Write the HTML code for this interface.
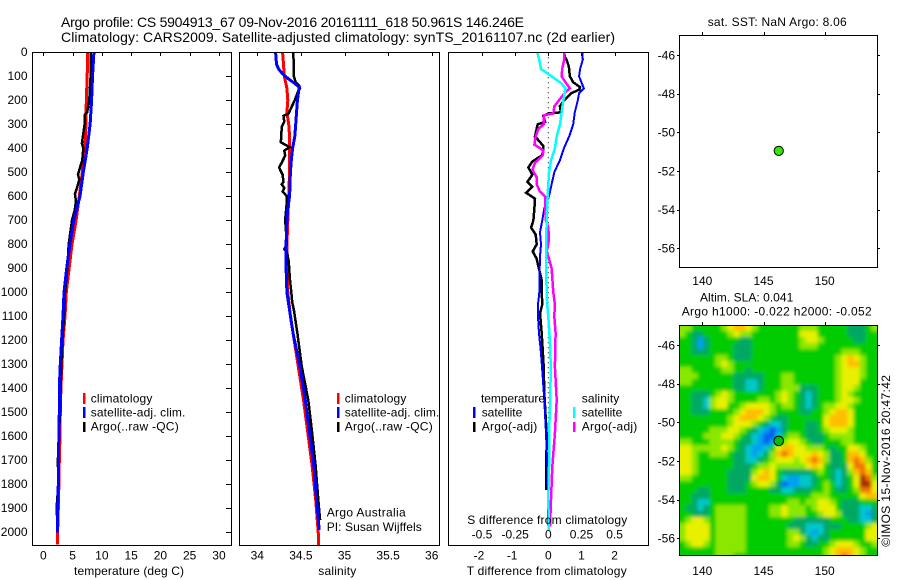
<!DOCTYPE html>
<html lang="en">
<head>
<meta charset="utf-8">
<title>Argo profile CS 5904913_67</title>
<style>
html,body{margin:0;padding:0;background:#fff;}
svg{display:block;}
text{font-family:"Liberation Sans",sans-serif;font-size:12px;fill:#000;}
.title{font-size:14px;}
.box{fill:none;stroke:#000;stroke-width:1;shape-rendering:crispEdges;}
.tick{stroke:#000;stroke-width:1;shape-rendering:crispEdges;}
.series{fill:none;stroke-linejoin:miter;shape-rendering:crispEdges;}
</style>
</head>
<body>
<svg id="figure" xmlns="http://www.w3.org/2000/svg" width="900" height="580" viewBox="0 0 900 580">
  <rect x="0" y="0" width="900" height="580" fill="#fff"/>
  <text class="title" x="61" y="27" textLength="463">Argo profile: CS 5904913_67 09-Nov-2016 20161111_618 50.961S 146.246E</text>
  <text class="title" x="61" y="42" textLength="554">Climatology: CARS2009. Satellite-adjusted climatology: synTS_20161107.nc (2d earlier)</text>

  <g id="heatmap-layer" clip-path="url(#heat-clip)"><g id="heatmap" filter="url(#heat-blur)"></g></g>
  <defs>
    <clipPath id="heat-clip"><rect x="679.5" y="325.5" width="198" height="230"/></clipPath>
    <filter id="heat-blur" filterUnits="userSpaceOnUse" x="640" y="290" width="280" height="300"><feGaussianBlur stdDeviation="1.8"/></filter>
  </defs>

  <g id="series-layer"></g>
  <g id="axis-layer"></g>

  <rect class="box" x="32.5" y="52.5" width="199" height="493"/>
  <rect class="box" x="239.5" y="52.5" width="200" height="493"/>
  <rect class="box" x="448.5" y="52.5" width="200" height="493"/>
  <rect class="box" x="679.5" y="35.5" width="198" height="232"/>
  <rect class="box" x="679.5" y="325.5" width="198" height="230"/>

  <text x="74" y="575" textLength="110">temperature (deg C)</text>
  <text x="318.3" y="575" textLength="38">salinity</text>
  <text x="466.7" y="575" textLength="160">T difference from climatology</text>
  <text x="467.3" y="524" textLength="160">S difference from climatology</text>

  <g>
    <rect x="83" y="393" width="2.5" height="11" fill="#f00"/>
    <rect x="83" y="407" width="2.5" height="11" fill="#00f"/>
    <rect x="83" y="422" width="2.5" height="10" fill="#000"/>
    <text x="90.7" y="402.3" textLength="61.7">climatology</text>
    <text x="90.7" y="416.3" textLength="94.7">satellite-adj. clim.</text>
    <text x="90.7" y="430.7" textLength="88">Argo(..raw -QC)</text>
  </g>
  <g>
    <rect x="337" y="393" width="2.5" height="11" fill="#f00"/>
    <rect x="337" y="407" width="2.5" height="11" fill="#00f"/>
    <rect x="337" y="422" width="2.5" height="10" fill="#000"/>
    <text x="344.7" y="402.3" textLength="61.7">climatology</text>
    <text x="344.7" y="416.3" textLength="94.7">satellite-adj. clim.</text>
    <text x="344.7" y="430.7" textLength="88">Argo(..raw -QC)</text>
  </g>
  <text x="326.7" y="516.7" textLength="79">Argo Australia</text>
  <text x="326.7" y="531" textLength="95">PI: Susan Wijffels</text>
  <g>
    <text x="481" y="402.3" textLength="64">temperature</text>
    <rect x="473" y="407" width="2.5" height="11" fill="#00f"/>
    <rect x="473" y="422" width="2.5" height="10" fill="#000"/>
    <text x="481.7" y="416.3" textLength="40.6">satellite</text>
    <text x="481.7" y="430.7" textLength="55.6">Argo(-adj)</text>
    <text x="581.7" y="402.3" textLength="37.6">salinity</text>
    <rect x="573" y="407" width="2.5" height="11" fill="#0ff"/>
    <rect x="573" y="422" width="2.5" height="10" fill="#f0f"/>
    <text x="581.7" y="416.3" textLength="40.6">satellite</text>
    <text x="581.7" y="430.7" textLength="55.6">Argo(-adj)</text>
  </g>

  <text x="707.7" y="26" textLength="139">sat. SST: NaN Argo: 8.06</text>
  <text x="700" y="301.7" textLength="93.3">Altim. SLA: 0.041</text>
  <text x="681.7" y="315.7" textLength="190">Argo h1000: -0.022 h2000: -0.052</text>
  <text transform="translate(890 546.7) rotate(-90)" x="0" y="0" textLength="171.7">©IMOS 15-Nov-2016 20:47:42</text>
</svg>

<script>
// ---- Chart data ----
const depthTicks = [0,100,200,300,400,500,600,700,800,900,1000,1100,1200,1300,1400,1500,1600,1700,1800,1900,2000];
const temperatureTicks = [0,5,10,15,20,25,30];
const salinityTicks = [34,34.5,35,35.5,36];
const tDiffTicks = [-2,-1,0,1,2];
const sDiffTicks = [-0.5,-0.25,0,0.25,0.5];
const lonTicks = [140,145,150];
const latTicks = [-46,-48,-50,-52,-54,-56];

const tempClimDepth = [0,100,200,300,400,450,500,600,700,800,900,1000,1100,1200,1300,1400,1500,1600,1700,1800,1900,2000,2050];
const tempClimValue = [7.57,7.5,7.34,7.3,7.1,6.8,6.66,6.15,5.6,4.9,4.4,3.93,3.7,3.36,3.19,3.0,2.9,2.85,2.73,2.67,2.56,2.45,2.4];
const tempSatDepth = [0,100,200,300,400,500,600,700,800,900,1000,1100,1200,1300,1400,1500,1600,1700,1800,1900,2000];
const tempSatValue = [8.65,8.4,8.25,8.0,7.5,6.83,6.26,5.2,4.55,4.0,3.53,3.36,3.13,2.9,2.73,2.73,2.67,2.56,2.56,2.45,2.39];
const tempArgoDepth = [0,100,200,250,260,300,350,380,400,450,480,510,530,560,590,620,660,700,800,900,1000,1100,1200,1300,1400,1500,1600,1700,1800,1900,1950];
const tempArgoValue = [8.14,8.08,7.85,7.5,7.1,7.06,6.77,6.6,6.83,6.66,6.26,5.92,6.15,5.8,5.4,5.58,5.35,4.9,4.33,4.1,3.7,3.53,3.24,3.07,2.96,2.85,2.67,2.5,2.56,2.28,2.39];

const salClimDepth = [0,50,100,150,200,250,300,350,400,500,600,700,800,900,1000,1100,1171,1310,1449,1588,1726,1865,2004,2054];
const salClimValue = [34.29,34.30,34.31,34.34,34.35,34.34,34.36,34.37,34.37,34.37,34.36,34.35,34.34,34.34,34.35,34.38,34.41,34.47,34.53,34.58,34.63,34.67,34.70,34.70];
const salSatDepth = [0,50,70,90,110,130,145,200,300,350,400,450,500,600,650,700,800,900,1000,1050,1171,1310,1449,1588,1726,1865,1990];
const salSatValue = [34.21,34.22,34.245,34.29,34.355,34.43,34.48,34.46,34.44,34.43,34.405,34.39,34.38,34.37,34.35,34.34,34.33,34.33,34.34,34.36,34.41,34.49,34.55,34.60,34.65,34.68,34.71];
const salArgoDepth = [0,50,100,125,140,150,170,200,230,255,265,290,310,350,375,385,395,410,430,460,480,495,510,540,550,565,580,600,620,700,800,820,830,870,950,1000,1040,1074,1171,1310,1449,1588,1726,1865,1949];
const salArgoValue = [34.41,34.42,34.42,34.44,34.48,34.49,34.46,34.43,34.39,34.36,34.30,34.31,34.28,34.275,34.27,34.32,34.37,34.31,34.32,34.28,34.25,34.27,34.29,34.30,34.28,34.31,34.29,34.34,34.34,34.32,34.34,34.31,34.34,34.36,34.375,34.39,34.40,34.42,34.46,34.51,34.585,34.63,34.67,34.70,34.72];

const tDiffSatDepth = [0,30,70,100,125,150,170,200,250,300,350,400,450,500,550,600,650,700,750,800,850,900,1000,1050,1101,1171,1240,1310,1449,1588,1726,1865,1990];
const tDiffSatValue = [1.03,1.04,0.96,0.93,1.0,1.07,0.93,0.89,0.8,0.75,0.63,0.47,0.35,0.18,0.1,0.02,-0.12,-0.18,-0.25,-0.22,-0.25,-0.26,-0.27,-0.31,-0.31,-0.28,-0.23,-0.19,-0.12,-0.07,-0.03,-0.01,0];
const tDiffArgoDepth = [0,20,30,60,100,125,145,155,170,190,205,225,250,255,265,290,300,350,390,410,430,455,480,510,540,560,585,610,650,700,730,760,800,830,860,880,950,1000,1050,1088,1171,1310,1421,1588,1824];
const tDiffArgoValue = [0.48,0.5,0.55,0.62,0.65,0.75,0.96,0.94,0.7,0.55,0.45,0.35,0.38,0,-0.15,-0.1,-0.32,-0.4,-0.15,-0.15,-0.2,-0.48,-0.6,-0.48,-0.63,-0.48,-0.67,-0.4,-0.42,-0.45,-0.52,-0.38,-0.35,-0.47,-0.35,-0.32,-0.2,-0.2,-0.18,-0.25,-0.2,-0.14,-0.12,-0.05,-0.06];
const sDiffSatDepth = [0,30,70,90,110,130,150,200,250,300,350,400,450,500,550,600,700,800,900,1000,1050,1101,1171,1240,1310,1449,1588,1726,1865,1990];
const sDiffSatValue = [-0.083,-0.068,-0.055,0,0.05,0.10,0.13,0.113,0.10,0.088,0.063,0.05,0.02,0.005,0,-0.005,-0.013,-0.015,-0.015,-0.013,-0.008,0,0.008,0.015,0.018,0.015,0.005,0.005,0,0.005];
const sDiffArgoDepth = [0,30,70,100,125,150,165,190,225,255,262,300,320,350,385,400,410,430,460,490,520,550,580,600,650,700,730,780,830,860,900,1000,1050,1101,1171,1310,1449,1588,1726,1865,1976];
const sDiffArgoValue = [0.12,0.12,0.105,0.10,0.13,0.163,0.13,0.095,0.045,0.038,-0.033,-0.035,-0.075,-0.095,-0.105,-0.06,-0.038,-0.043,-0.10,-0.12,-0.088,-0.088,-0.063,-0.025,-0.025,-0.018,0,0.005,-0.012,0.005,0.025,0.038,0.05,0.045,0.055,0.05,0.063,0.05,0.03,0.02,0.013];

const profileLon = [146.246];
const profileLat = [-50.961];

// Sea level anomaly grid, colour class 0 (low) to 9 (high), one row per line
const heatRows = [
"55444445677 65444444455 54444433345",
"54334444565 54444444466 64444433344",
"44313444443 34444444456 65444443344",
"44313444433 34444444455 54444444444",
"44333444433 34444444444 44444555444",
"44444455433 34444444444 44445676544",
"44444456544 44444444444 44445677544",
"55444445544 34444444444 44445666544",
"55544444433 33344455444 44445666544",
"55444444433 22344455444 44445666444",
"44444444433 22344455533 34445665444",
"44333456544 44444565432 34445654444",
"44332566544 44554565432 34445665444",
"44332566445 66665455432 34556654444",
"44333444456 77765444433 44567764444",
"44444444567 77654334444 44677764444",
"44444444566 65432234443 34677764444",
"44444555665 43210134443 34566654444",
"44445556654 32100245543 33455554444",
"55444555543 32101456654 33444554444",
"66555556543 21124677665 55434466544",
"66544555433 21235787666 76533477644",
"66544444433 22345666567 87533478754",
"66544444433 34556555556 76433368864",
"66544444333 35676433333 45432357874",
"55444444333 36776421122 34432346985",
"44444444333 45665301122 34542346996",
"44433444333 44443322333 44543345886",
"44333444444 44444444444 55544444677",
"44322444444 44444445545 56654333444",
"43323455555 44445565554 56664333223",
"44333455555 44445565554 45665333213",
"45665455555 44444444333 33344433223",
"56666455555 44444443332 22333444456",
"56666455555 44444445532 12344444466",
"56666455555 44444445653 23344444466",
"45665455555 44444445543 34456665445",
"44444455555 44444444444 44567776544",
"44444455544 44444444444 44567876544"
];

// ---- Scales ----
const NS = 'http://www.w3.org/2000/svg';
const yDepth = d => 52.3 + d * 0.24;
const xTemp = v => 43.3 + v * 5.855;
const xSal = v => 257.3 + (v - 34) * 87.2;
const xTDiff = v => 548.3 + v * 33.15;
const xSDiff = v => 548.3 + v * 132.6;
const xLon = v => 702.3 + (v - 140) * 12.24;
const yLatTop = v => 55 + (-46 - v) * 19.33;
const yLatBottom = v => 345 + (-46 - v) * 19.33;
const heatPalette = ['#0060f0','#00a0f0','#00c8c8','#00a862','#00cc00','#8ae800','#e8f000','#ffbe00','#ee7400','#a82400'];

const seriesLayer = document.getElementById('series-layer');
const axisLayer = document.getElementById('axis-layer');
const heatmap = document.getElementById('heatmap');

function make(tag, attrs, parent) {
  const el = document.createElementNS(NS, tag);
  for (const k in attrs) el.setAttribute(k, attrs[k]);
  parent.appendChild(el);
  return el;
}
function tickLine(x1, y1, x2, y2) {
  const el = make('line', {x1: x1, y1: y1, x2: x2, y2: y2, class: 'tick'}, axisLayer);
  
  
}
function tickLabel(x, y, str, anchor) {
  const el = make('text', {x: x, y: y, 'text-anchor': anchor}, axisLayer);
  el.textContent = str;
  
  
}
function drawSeries(name, depths, values, xScale, color, width) {
  const pts = depths.map((d, i) => xScale(values[i]).toFixed(1) + ',' + yDepth(d).toFixed(1)).join(' ');
  const el = make('polyline', {points: pts, class: 'series', stroke: color, 'stroke-width': width}, seriesLayer);
  
  
}

// ---- Heatmap ----
heatRows.forEach((row, r) => {
  const cells = row.replace(/ /g, '');
  for (let c = 0; c < cells.length; c++) {
    const grow = 24;
    const x = 679.5 + c * 6 - (c === 0 ? grow : 0);
    const y = 325 + r * 6 - (r === 0 ? grow : 0);
    const w = 6.5 + (c === 0 ? grow : 0) + (c === cells.length - 1 ? grow : 0);
    const h = 6.5 + (r === 0 ? grow : 0) + (r === heatRows.length - 1 ? grow : 0);
    const cell = make('rect', {x: x, y: y, width: w, height: h, fill: heatPalette[+cells[c]]}, heatmap);
    
    
  }
});

// ---- Zero line in difference panel ----
const zeroLine = make('line', {x1: xTDiff(0), y1: yDepth(0), x2: xTDiff(0), y2: yDepth(1900), stroke: '#000', 'stroke-width': 1, 'stroke-dasharray': '1 4'}, seriesLayer);



// ---- Series ----
drawSeries('temperature-climatology-line', tempClimDepth, tempClimValue, xTemp, '#f00', 3);
drawSeries('temperature-argo-line', tempArgoDepth, tempArgoValue, xTemp, '#000', 2.5);
drawSeries('temperature-satellite-line', tempSatDepth, tempSatValue, xTemp, '#00f', 3);
drawSeries('salinity-climatology-line', salClimDepth, salClimValue, xSal, '#f00', 3);
drawSeries('salinity-argo-line', salArgoDepth, salArgoValue, xSal, '#000', 2.5);
drawSeries('salinity-satellite-line', salSatDepth, salSatValue, xSal, '#00f', 3);
drawSeries('t-difference-argo-line', tDiffArgoDepth, tDiffArgoValue, xTDiff, '#000', 2.5);
drawSeries('t-difference-satellite-line', tDiffSatDepth, tDiffSatValue, xTDiff, '#00f', 2);
drawSeries('s-difference-argo-line', sDiffArgoDepth, sDiffArgoValue, xSDiff, '#f0f', 2.5);
drawSeries('s-difference-satellite-line', sDiffSatDepth, sDiffSatValue, xSDiff, '#0ff', 2.5);

// ---- Axes ----
depthTicks.forEach(d => {
  tickLabel(27.5, yDepth(d) + 3.7, String(d), 'end');
  tickLine(226, Math.round(yDepth(d)) + 0.5, 231, Math.round(yDepth(d)) + 0.5);
});
temperatureTicks.forEach(v => {
  tickLabel(xTemp(v), 559.3, String(v), 'middle');
  tickLine(Math.round(xTemp(v)) + 0.5, 52, Math.round(xTemp(v)) + 0.5, 56);
});
salinityTicks.forEach(v => {
  tickLabel(xSal(v), 559.3, String(v), 'middle');
  tickLine(Math.round(xSal(v)) + 0.5, 52, Math.round(xSal(v)) + 0.5, 56);
});
tDiffTicks.forEach(v => {
  tickLabel(xTDiff(v) - (v < 0 ? 3 : 0), 559.3, String(v), 'middle');
  tickLine(Math.round(xTDiff(v)) + 0.5, 52, Math.round(xTDiff(v)) + 0.5, 56);
});
sDiffTicks.forEach(v => {
  tickLabel(xSDiff(v), 538.7, String(v), 'middle');
});
lonTicks.forEach(v => {
  tickLabel(xLon(v), 285, String(v), 'middle');
  tickLabel(xLon(v), 575, String(v), 'middle');
  tickLine(Math.round(xLon(v)) + 0.5, 32, Math.round(xLon(v)) + 0.5, 35);
  tickLine(Math.round(xLon(v)) + 0.5, 322, Math.round(xLon(v)) + 0.5, 325);
});
latTicks.forEach(v => {
  tickLabel(675, yLatTop(v) + 4.3, String(v), 'end');
  tickLabel(675, yLatBottom(v) + 4.3, String(v), 'end');
  tickLine(677, Math.round(yLatTop(v)) + 0.5, 679, Math.round(yLatTop(v)) + 0.5);
  tickLine(878, Math.round(yLatTop(v)) + 0.5, 880, Math.round(yLatTop(v)) + 0.5);
  tickLine(677, Math.round(yLatBottom(v)) + 0.5, 679, Math.round(yLatBottom(v)) + 0.5);
  tickLine(878, Math.round(yLatBottom(v)) + 0.5, 880, Math.round(yLatBottom(v)) + 0.5);
});

// ---- Profile location markers ----
const sstMarker = make('circle', {cx: xLon(profileLon[0]), cy: yLatTop(profileLat[0]), r: 4.6, fill: '#33e800', stroke: '#000', 'stroke-width': 1}, axisLayer);


const slaMarker = make('circle', {cx: xLon(profileLon[0]), cy: yLatBottom(profileLat[0]), r: 4.8, fill: '#00c000', stroke: '#000', 'stroke-width': 1}, axisLayer);


</script>
</body>
</html>
